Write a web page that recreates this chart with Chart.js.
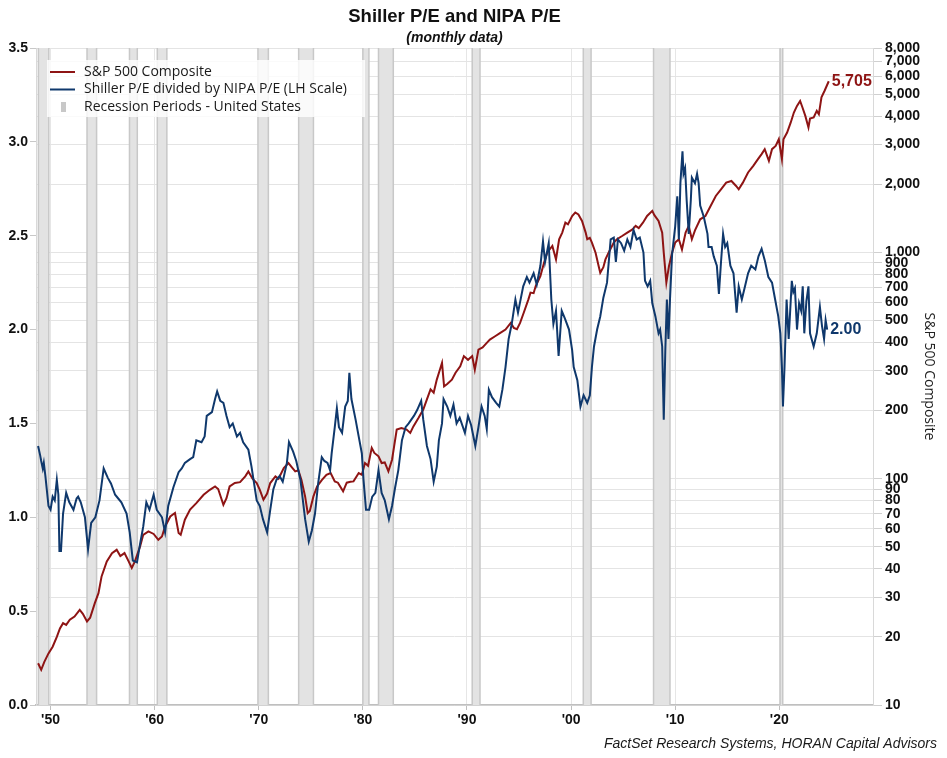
<!DOCTYPE html>
<html>
<head>
<meta charset="utf-8">
<script src="https://cdn.jsdelivr.net/npm/chart.js@4.4.1/dist/chart.umd.min.js"></script>
<style>
  body { margin: 0; background: #fff; }
  #wrap { width: 947px; height: 758px; }
</style>
</head>
<body>
<div id="wrap"><canvas id="peChart" width="947" height="758"></canvas></div>
<script>
// S&P 500 Composite (right, log scale) - year, level
const spYears = [1948.8, 1949.1, 1949.4, 1949.8, 1950.2, 1950.6, 1950.9, 1951.2, 1951.5, 1951.85, 1952.3, 1952.8, 1953.1, 1953.5, 1953.8,
    1954.25, 1954.6, 1954.9, 1955.4, 1955.9, 1956.35, 1956.7, 1957.1, 1957.5, 1957.8, 1958.1, 1958.6, 1958.9, 1959.4, 1959.9,
    1960.35, 1960.7, 1961.0, 1961.5, 1961.95, 1962.3, 1962.5, 1962.9, 1963.4, 1964.0, 1964.7, 1965.3, 1965.8, 1966.1, 1966.6,
    1966.9, 1967.2, 1967.7, 1968.2, 1968.7, 1969.0, 1969.4, 1969.8, 1970.1, 1970.45, 1970.8, 1971.1, 1971.6, 1971.9, 1972.4,
    1972.85, 1973.2, 1973.5, 1973.8, 1974.1, 1974.45, 1974.7, 1974.9, 1975.25, 1975.6, 1976.05, 1976.5, 1976.9, 1977.3, 1977.6,
    1978.1, 1978.45, 1978.8, 1979.1, 1979.6, 1979.9, 1980.2, 1980.5, 1980.85, 1981.1, 1981.5, 1981.8, 1982.1, 1982.45, 1982.8,
    1983.0, 1983.25, 1983.7, 1984.2, 1984.55, 1984.85, 1985.35, 1985.8, 1986.15, 1986.5, 1986.8, 1987.1, 1987.35, 1987.6, 1987.8,
    1988.1, 1988.55, 1988.9, 1989.35, 1989.7, 1990.1, 1990.5, 1990.75, 1991.1, 1991.5, 1991.9, 1992.2, 1992.7, 1993.2, 1993.7,
    1994.2, 1994.5, 1994.8, 1995.1, 1995.45, 1995.9, 1996.1, 1996.4, 1996.6, 1997.05, 1997.4, 1997.7, 1998.2, 1998.55, 1998.85,
    1999.15, 1999.45, 1999.7, 2000.1, 2000.4, 2000.7, 2001.05, 2001.4, 2001.55, 2001.8, 2002.0, 2002.35, 2002.65, 2002.8, 2003.1,
    2003.3, 2003.6, 2004.1, 2004.4, 2004.9, 2005.4, 2005.9, 2006.2, 2006.5, 2006.9, 2007.3, 2007.8, 2008.0, 2008.4, 2008.75,
    2008.9, 2009.15, 2009.4, 2009.7, 2010.0, 2010.35, 2010.65, 2011.0, 2011.3, 2011.6, 2011.9, 2012.4, 2012.9, 2013.4, 2013.9,
    2014.4, 2014.9, 2015.4, 2015.85, 2016.1, 2016.5, 2017.0, 2017.5, 2017.95, 2018.3, 2018.6, 2019.0, 2019.3, 2019.65, 2019.95,
    2020.25, 2020.4, 2020.75, 2021.1, 2021.4, 2021.7, 2022.0, 2022.2, 2022.5, 2022.8, 2022.95, 2023.3, 2023.6, 2023.8, 2024.05,
    2024.35, 2024.75];
const spValues = [15.3, 14.3, 15.5, 16.9, 18.1, 20.0, 21.8, 23.0, 22.6, 23.8, 24.6, 26.3, 25.3, 23.4, 24.3,
    28.2, 31.2, 37.0, 43.1, 46.9, 48.5, 45.5, 46.9, 43.1, 40.3, 43.1, 50.2, 56.5, 58.5, 57.0,
    53.7, 55.5, 61.5, 68.1, 70.5, 57.5, 56.5, 65.9, 73.0, 78.0, 84.9, 89.3, 92.4, 90.0, 76.7,
    82.0, 92.4, 95.7, 96.5, 102.4, 107.7, 100.0, 95.7, 89.3, 80.7, 86.0, 95.7, 102.4, 100.0, 111.5,
    117.3, 112.0, 107.7, 109.0, 98.6, 83.5, 70.5, 72.0, 83.5, 92.4, 98.6, 104.1, 105.9, 97.3, 96.0,
    87.9, 96.0, 97.0, 97.3, 105.9, 104.0, 117.3, 114.0, 136.8, 130.0, 125.6, 117.3, 118.0, 107.7, 121.3,
    139, 164.8, 167.6, 164.8, 159.3, 170.3, 185.7, 202, 224, 248, 240, 274, 298.5, 325, 256,
    262, 274, 294, 314, 348, 335, 348, 303, 372, 380, 398, 412, 426, 441, 456,
    488, 464, 458, 488, 541, 620, 664, 660, 710, 786, 900, 997, 1067, 931, 1143,
    1223, 1353, 1330, 1448, 1500, 1470, 1377, 1223, 1143, 1160, 1105, 997, 869, 813, 860,
    931, 997, 1105, 1143, 1181, 1223, 1264, 1309, 1280, 1353, 1448, 1525, 1460, 1377, 1223,
    997, 735, 869, 997, 1105, 1143, 1030, 1223, 1309, 1143, 1250, 1400, 1448, 1603, 1775,
    1900, 2033, 2068, 1965, 1900, 2033, 2254, 2412, 2583, 2718, 2858, 2535, 2858, 2953, 3162,
    2583, 3162, 3387, 3751, 4150, 4440, 4670, 4400, 4010, 3565, 3900, 3945, 4220, 4080, 4840,
    5180, 5705];

// Shiller P/E divided by NIPA P/E (left scale)
const ratioYears = [1948.8, 1949.0, 1949.1, 1949.25, 1949.35, 1949.5, 1949.8, 1950.0, 1950.2, 1950.4, 1950.6, 1950.75, 1950.85, 1951.0, 1951.2,
    1951.5, 1951.8, 1952.2, 1952.5, 1952.65, 1952.9, 1953.3, 1953.6, 1953.9, 1954.3, 1954.7, 1955.1, 1955.5, 1955.8, 1956.2,
    1956.5, 1956.8, 1957.3, 1957.6, 1957.9, 1958.3, 1958.6, 1958.9, 1959.2, 1959.5, 1959.9, 1960.2, 1960.7, 1961.0, 1961.3,
    1961.8, 1962.3, 1962.6, 1962.9, 1963.4, 1963.7, 1964.0, 1964.5, 1964.8, 1965.0, 1965.5, 1965.8, 1966.0, 1966.3, 1966.6,
    1966.9, 1967.2, 1967.5, 1967.9, 1968.2, 1968.5, 1969.0, 1969.3, 1969.8, 1970.1, 1970.4, 1970.8, 1971.1, 1971.4, 1971.7,
    1972.0, 1972.3, 1972.7, 1972.9, 1973.3, 1973.6, 1974.0, 1974.45, 1974.8, 1975.1, 1975.4, 1975.7, 1976.05, 1976.3, 1976.6,
    1976.85, 1977.0, 1977.3, 1977.5, 1977.7, 1978.0, 1978.3, 1978.55, 1978.7, 1978.9, 1979.3, 1979.6, 1979.9, 1980.06, 1980.3,
    1980.6, 1980.9, 1981.2, 1981.5, 1981.8, 1982.1, 1982.5, 1982.8, 1983.1, 1983.4, 1983.75, 1984.1, 1984.4, 1984.9, 1985.2,
    1985.6, 1985.8, 1986.15, 1986.5, 1986.8, 1987.1, 1987.3, 1987.6, 1987.75, 1988.1, 1988.4, 1988.7, 1989.0, 1989.3, 1989.8,
    1990.1, 1990.4, 1990.8, 1991.1, 1991.4, 1991.7, 1991.9, 1992.1, 1992.4, 1992.8, 1993.1, 1993.4, 1993.7, 1994.0, 1994.3,
    1994.65, 1994.9, 1995.4, 1995.75, 1996.0, 1996.4, 1996.7, 1997.05, 1997.3, 1997.5, 1997.85, 1998.1, 1998.3, 1998.55, 1998.8,
    1999.1, 1999.4, 1999.8, 2000.1, 2000.25, 2000.6, 2000.9, 2001.2, 2001.55, 2001.8, 2002.0, 2002.2, 2002.5, 2002.8, 2003.1,
    2003.45, 2003.8, 2004.1, 2004.3, 2004.5, 2004.8, 2005.1, 2005.4, 2005.7, 2006.0, 2006.3, 2006.6, 2006.95, 2007.1, 2007.35,
    2007.6, 2007.8, 2008.1, 2008.4, 2008.55, 2008.75, 2008.9, 2009.05, 2009.2, 2009.35, 2009.5, 2009.7, 2010.0, 2010.2, 2010.35,
    2010.5, 2010.7, 2010.8, 2010.95, 2011.1, 2011.3, 2011.5, 2011.6, 2011.9, 2012.1, 2012.25, 2012.4, 2012.75, 2013.1, 2013.2,
    2013.5, 2013.7, 2014.0, 2014.2, 2014.4, 2014.6, 2014.8, 2015.0, 2015.3, 2015.6, 2015.9, 2016.1, 2016.4, 2016.7, 2017.0,
    2017.3, 2017.7, 2018.0, 2018.3, 2018.6, 2018.95, 2019.3, 2019.6, 2019.9, 2020.1, 2020.25, 2020.35, 2020.5, 2020.6, 2020.7,
    2020.9, 2021.2, 2021.35, 2021.5, 2021.7, 2021.9, 2022.1, 2022.25, 2022.4, 2022.6, 2022.8, 2022.95, 2023.1, 2023.3, 2023.6,
    2023.9, 2024.1, 2024.3, 2024.45, 2024.6];
const ratioValues = [1.38, 1.33, 1.30, 1.26, 1.29, 1.22, 1.06, 1.04, 1.11, 1.09, 1.20, 1.12, 0.82, 0.82, 1.02,
    1.13, 1.08, 1.04, 1.10, 1.11, 1.08, 1.00, 0.83, 0.97, 1.00, 1.09, 1.26, 1.21, 1.18, 1.12,
    1.10, 1.08, 1.02, 0.92, 0.77, 0.76, 0.86, 0.95, 1.08, 1.04, 1.12, 1.04, 1.00, 0.92, 1.06,
    1.16, 1.24, 1.26, 1.29, 1.31, 1.32, 1.41, 1.40, 1.43, 1.54, 1.56, 1.63, 1.67, 1.62, 1.61,
    1.54, 1.48, 1.50, 1.43, 1.45, 1.40, 1.36, 1.27, 1.09, 1.06, 0.99, 0.92, 1.04, 1.15, 1.20,
    1.22, 1.19, 1.29, 1.40, 1.35, 1.30, 1.20, 0.99, 0.87, 0.93, 1.02, 1.18, 1.32, 1.30, 1.29,
    1.25, 1.34, 1.48, 1.58, 1.48, 1.45, 1.59, 1.62, 1.77, 1.63, 1.52, 1.43, 1.34, 1.20, 1.04,
    1.04, 1.11, 1.13, 1.25, 1.13, 1.09, 0.99, 1.06, 1.16, 1.25, 1.41, 1.48, 1.50, 1.54, 1.57,
    1.62, 1.52, 1.38, 1.31, 1.19, 1.27, 1.41, 1.50, 1.63, 1.59, 1.54, 1.60, 1.50, 1.53, 1.45,
    1.54, 1.49, 1.38, 1.48, 1.59, 1.54, 1.47, 1.68, 1.64, 1.61, 1.59, 1.68, 1.80, 1.95, 2.03,
    2.16, 2.09, 2.23, 2.28, 2.25, 2.30, 2.24, 2.34, 2.47, 2.36, 2.46, 2.16, 2.03, 2.10, 1.86,
    2.10, 2.06, 2.00, 1.89, 1.80, 1.73, 1.59, 1.65, 1.61, 1.65, 1.80, 1.91, 2.00, 2.07, 2.17,
    2.25, 2.48, 2.49, 2.36, 2.48, 2.46, 2.42, 2.48, 2.44, 2.53, 2.48, 2.49, 2.41, 2.26, 2.23,
    2.26, 2.14, 2.07, 1.98, 2.00, 1.91, 1.52, 1.89, 2.16, 1.95, 2.16, 2.40, 2.55, 2.71, 2.48,
    2.78, 2.95, 2.83, 2.86, 2.69, 2.51, 2.69, 2.81, 2.78, 2.83, 2.78, 2.66, 2.60, 2.51, 2.44,
    2.44, 2.39, 2.34, 2.19, 2.36, 2.51, 2.44, 2.46, 2.34, 2.30, 2.09, 2.23, 2.16, 2.23, 2.30,
    2.34, 2.32, 2.39, 2.43, 2.37, 2.28, 2.25, 2.16, 2.07, 1.98, 1.80, 1.59, 1.80, 1.98, 2.16,
    1.95, 2.26, 2.20, 2.22, 2.00, 2.14, 2.10, 2.23, 1.98, 2.15, 2.23, 1.98, 1.95, 1.91, 1.98,
    2.12, 2.02, 1.95, 2.05, 2.00];

// US recessions (decimal years)
const recessionStart = [1948.83, 1953.5, 1957.58, 1960.25, 1969.92, 1973.83, 1980.0, 1981.5, 1990.5, 2001.17, 2007.92, 2020.08];
const recessionEnd = [1949.83, 1954.42, 1958.33, 1961.17, 1970.92, 1975.25, 1980.58, 1982.92, 1991.25, 2001.92, 2009.5, 2020.33];

// Axis ticks
const xTickYears = [1950, 1960, 1970, 1980, 1990, 2000, 2010, 2020];
const leftTicks = [0, 0.5, 1, 1.5, 2, 2.5, 3, 3.5];
const rightTicks = [10, 20, 30, 40, 50, 60, 70, 80, 90, 100, 200, 300, 400, 500, 600, 700, 800, 900,
    1000, 2000, 3000, 4000, 5000, 6000, 7000, 8000];

const RED = '#8E1414';
const NAVY = '#0F386C';
const tickFont = { family: "'Liberation Sans', Arial, sans-serif", size: 14, weight: 'bold' };

// Grey recession columns behind the lines
const recessionPlugin = {
    id: 'recessions',
    beforeDatasetsDraw(chart) {
        const { ctx, chartArea: a, scales: { x } } = chart;
        ctx.save();
        ctx.beginPath();
        ctx.rect(a.left, a.top, a.width, a.height);
        ctx.clip();
        recessionStart.forEach((s, i) => {
            const x0 = x.getPixelForValue(s);
            const x1 = x.getPixelForValue(recessionEnd[i]);
            ctx.fillStyle = '#E3E3E3';
            ctx.fillRect(x0, a.top, x1 - x0, a.height);
            ctx.strokeStyle = '#C8C8C8';
            ctx.lineWidth = 1.5;
            ctx.beginPath();
            ctx.moveTo(x0, a.top); ctx.lineTo(x0, a.bottom);
            ctx.moveTo(x1, a.top); ctx.lineTo(x1, a.bottom);
            ctx.stroke();
        });
        ctx.restore();
    }
};

// Last-value labels, legend box and source note
const annotatePlugin = {
    id: 'annotate',
    afterDraw(chart) {
        const ctx = chart.ctx;
        ctx.save();
        ctx.textBaseline = 'middle';
        ctx.textAlign = 'left';
        ctx.font = "bold 16px 'Liberation Sans', Arial, sans-serif";
        chart.data.datasets.forEach((ds, i) => {
            const meta = chart.getDatasetMeta(i);
            const pt = meta.data[meta.data.length - 1];
            const v = ds.data[ds.data.length - 1].y;
            const txt = ds.yAxisID === 'yR' ? v.toLocaleString('en-US') : v.toFixed(2);
            ctx.fillStyle = ds.borderColor;
            ctx.fillText(txt, pt.x + 3, pt.y);
        });

        // legend
        const lx = 47, ly = 60;
        ctx.fillStyle = 'rgba(255,255,255,0.8)';
        ctx.fillRect(lx, ly, 318, 57);
        const rows = [
            { text: 'S&P 500 Composite', color: RED, y: 72 },
            { text: 'Shiller P/E divided by NIPA P/E (LH Scale)', color: NAVY, y: 89.5 },
            { text: 'Recession Periods - United States', color: null, y: 107 }
        ];
        ctx.font = "14px 'Open Sans', sans-serif";
        rows.forEach(r => {
            if (r.color) {
                ctx.strokeStyle = r.color;
                ctx.lineWidth = 2;
                ctx.beginPath();
                ctx.moveTo(50, r.y); ctx.lineTo(75, r.y);
                ctx.stroke();
            } else {
                ctx.fillStyle = '#C8C8C8';
                ctx.fillRect(61, r.y - 5, 5, 10);
            }
            ctx.fillStyle = '#1A1A1A';
            ctx.fillText(r.text, 84, r.y);
        });

        // source
        ctx.textAlign = 'right';
        ctx.font = "italic 14px 'Liberation Sans', Arial, sans-serif";
        ctx.fillStyle = '#1A1A1A';
        ctx.fillText('FactSet Research Systems, HORAN Capital Advisors', 937, 744);
        ctx.restore();
    }
};

const ctx = document.getElementById('peChart').getContext('2d');
const peChart = new Chart(ctx, {
    type: 'line',
    data: {
        datasets: [
            {
                label: 'Shiller P/E divided by NIPA P/E (LH Scale)',
                data: ratioYears.map((yr, i) => ({ x: yr, y: ratioValues[i] })),
                borderColor: NAVY,
                borderWidth: 2,
                pointRadius: 0,
                tension: 0,
                yAxisID: 'yL'
            },
            {
                label: 'S&P 500 Composite',
                data: spYears.map((yr, i) => ({ x: yr, y: spValues[i] })),
                borderColor: RED,
                borderWidth: 2,
                pointRadius: 0,
                tension: 0,
                yAxisID: 'yR'
            }
        ]
    },
    options: {
        responsive: false,
        animation: false,
        layout: { padding: 0 },
        plugins: {
            legend: { display: false },
            tooltip: { enabled: false },
            title: {
                display: true,
                text: 'Shiller P/E and NIPA P/E',
                fullSize: false,
                color: '#111',
                font: { family: "'Liberation Sans', Arial, sans-serif", size: 18.5, weight: 'bold', lineHeight: 1.2 },
                padding: { top: 6, bottom: 0 }
            },
            subtitle: {
                display: true,
                text: '(monthly data)',
                fullSize: false,
                color: '#111',
                font: { family: "'Liberation Sans', Arial, sans-serif", size: 14, weight: 'bold', style: 'italic', lineHeight: 1.2 },
                padding: { top: 2, bottom: 1 }
            }
        },
        scales: {
            x: {
                type: 'linear',
                position: 'bottom',
                min: 1948.6,
                max: 2029,
                afterBuildTicks: scale => { scale.ticks = xTickYears.map(v => ({ value: v })); },
                afterFit: scale => { scale.height = 53; },
                grid: { color: '#E6E6E6', tickLength: 5, tickColor: '#BFBFBF' },
                border: { color: '#BFBFBF', width: 1.5 },
                ticks: {
                    font: tickFont,
                    color: '#111',
                    padding: 2,
                    maxRotation: 0,
                    callback: v => "'" + String(v).slice(2)
                }
            },
            yL: {
                type: 'linear',
                position: 'left',
                min: 0,
                max: 3.5,
                afterBuildTicks: scale => { scale.ticks = leftTicks.map(v => ({ value: v })); },
                afterFit: scale => { scale.width = 36; },
                grid: { drawOnChartArea: false, tickLength: 6, tickColor: '#C8C8C8' },
                border: { color: '#D9D9D9' },
                ticks: { font: tickFont, color: '#111', padding: 2, callback: v => v.toFixed(1) }
            },
            yR: {
                type: 'logarithmic',
                position: 'right',
                min: 10,
                max: 8000,
                afterBuildTicks: scale => { scale.ticks = rightTicks.map(v => ({ value: v })); },
                afterFit: scale => { scale.width = 74; },
                grid: { color: '#E4E4E4', tickLength: 9, tickColor: '#D0D0D0' },
                border: { color: '#D9D9D9' },
                ticks: {
                    font: tickFont,
                    color: '#111',
                    padding: 3,
                    autoSkip: false,
                    callback: v => v.toLocaleString('en-US')
                },
                title: {
                    display: true,
                    text: 'S&P 500 Composite',
                    color: '#222',
                    font: { family: "'Open Sans', sans-serif", size: 14 },
                    padding: { top: 10, bottom: 0 }
                }
            }
        }
    },
    plugins: [recessionPlugin, annotatePlugin]
});
</script>
</body>
</html>
